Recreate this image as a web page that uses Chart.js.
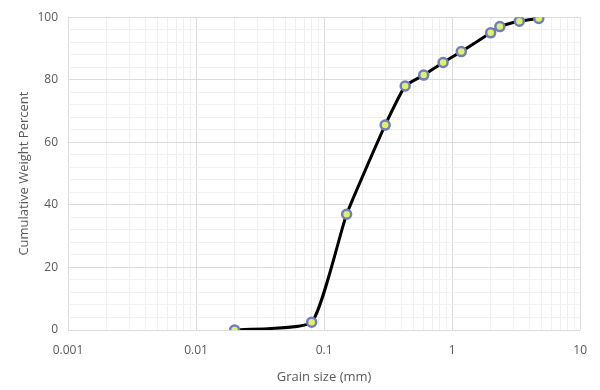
<!DOCTYPE html>
<html>
<head>
<meta charset="utf-8">
<script src="https://cdn.jsdelivr.net/npm/chart.js@4"></script>
<style>
  html, body { margin: 0; padding: 0; background: #fff; }
  #wrap { width: 600px; height: 390px; }
</style>
</head>
<body>
<div id="wrap"><canvas id="chart"></canvas></div>
<script>
// grain size distribution
const grainSizes = [0.02, 0.08, 0.15, 0.3, 0.43, 0.6, 0.85, 1.18, 2.0, 2.36, 3.35, 4.75];
const cumPercent = [0, 2.5, 37, 65.5, 78, 81.5, 85.5, 89, 95, 97, 98.7, 99.6];
const xTickLabels = ["0.001", "0.01", "0.1", "1", "10"];
const yTickLabels = [0, 20, 40, 60, 80, 100];

const textColor = "#595959";
const family = "'Open Sans', 'Noto Sans', sans-serif";

const points = grainSizes.map((s, i) => ({ x: s, y: cumPercent[i] }));

const ctx = document.getElementById("chart").getContext("2d");
new Chart(ctx, {
  type: "scatter",
  data: {
    datasets: [{
      label: "Cumulative",
      data: points,
      showLine: true,
      borderColor: "#000",
      borderWidth: 3,
      tension: 0.15,
      pointRadius: 4.5,
      pointBorderWidth: 2.5,
      pointBackgroundColor: "#e2ef6a",
      pointBorderColor: "#6f7fb8"
    }]
  },
  options: {
    responsive: true,
    maintainAspectRatio: false,
    animation: false,
    layout: { padding: { top: 17, right: 18, left: 0, bottom: 0 } },
    plugins: { legend: { display: false }, tooltip: { enabled: false } },
    scales: {
      x: {
        type: "logarithmic",
        min: 0.001,
        max: 10,
        afterBuildTicks: axis => {
          const ticks = [];
          for (let e = -3; e < 1; e++) {
            for (let m = 1; m < 10; m++) ticks.push({ value: m * Math.pow(10, e) });
          }
          ticks.push({ value: 10 });
          axis.ticks = ticks;
        },
        afterFit: axis => { axis.height = 60; },
        ticks: {
          autoSkip: false,
          maxRotation: 0,
          padding: 13,
          color: textColor,
          font: { family: family, size: 12 },
          callback: function (value) {
            const lbl = xTickLabels.find(t => Math.abs(parseFloat(t) - value) < value * 1e-6);
            return lbl || "";
          }
        },
        grid: {
          drawTicks: false,
          color: c => {
            const lg = Math.log10(c.tick.value);
            return Math.abs(lg - Math.round(lg)) < 1e-6 ? "#dcdcdc" : "#efefef";
          }
        },
        border: { display: false },
        title: {
          display: true,
          text: "Grain size (mm)",
          color: textColor,
          font: { family: family, size: 13 },
          padding: { top: 4, bottom: 5 }
        }
      },
      y: {
        min: 0,
        max: 100,
        afterFit: axis => { axis.width = 68; },
        ticks: {
          stepSize: 4,
          autoSkip: false,
          padding: 10,
          color: textColor,
          font: { family: family, size: 12 },
          callback: v => (yTickLabels.includes(v) ? String(v) : "")
        },
        grid: {
          drawTicks: false,
          color: c => (c.tick.value % 20 === 0 ? "#dcdcdc" : "#f1f1f1")
        },
        border: { display: false },
        title: {
          display: true,
          text: "Cumulative Weight Percent",
          color: textColor,
          font: { family: family, size: 13 },
          padding: { top: 16, bottom: 2 }
        }
      }
    }
  }
});
</script>
</body>
</html>
